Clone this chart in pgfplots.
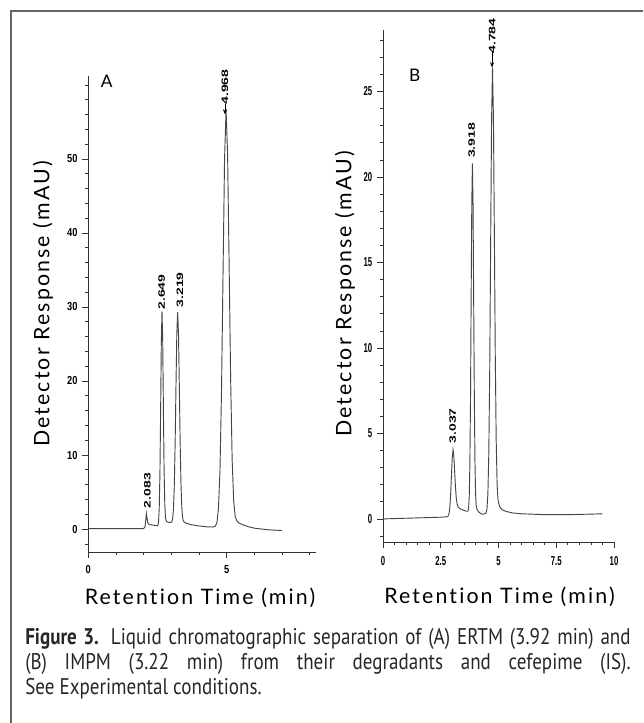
\documentclass[border=0pt]{standalone}
\usepackage{fontspec}
\setmainfont{Lato}
\newfontfamily\tickA[FakeStretch=0.8]{Liberation Sans Bold}
\newfontfamily\tickB[FakeStretch=0.6]{Liberation Sans Bold}
\newfontfamily\pkfont[FakeStretch=1.5]{Liberation Sans Bold}
\newfontfamily\labfont[LetterSpace=10, Ligatures=CommonOff]{Lato}
\newfontfamily\capfont[FakeStretch=0.84, BoldFeatures={FakeStretch=0.84}]{PT Sans}
\usepackage{xcolor}
\usepackage{pgfplots}
\pgfplotsset{compat=1.18}
\usetikzlibrary{arrows.meta}
\definecolor{trace}{HTML}{454545}
\definecolor{axisc}{HTML}{333333}

\pgfplotsset{chrom/.style={
  scale only axis, anchor=south west, clip=false,
  axis lines=left, axis line style={-, axisc, line width=0.6pt},
  tick align=outside, major tick length=4.5pt, minor tick length=2.2pt,
  tick style={axisc, line width=0.5pt},
  /pgf/number format/assume math mode=true,
}}
\newcommand{\pk}[1]{{\pkfont\fontsize{7}{8}\selectfont #1}}

\begin{document}
\begin{tikzpicture}
\useasboundingbox (0,0) rectangle (482.25pt,542.25pt);
\draw[line width=1.2pt, black!60] (8.25pt,0) -- (8.25pt,534pt) -- (482.25pt,534pt);

% panel A
\begin{axis}[chrom, at={(66.2pt,128.25pt)}, width=170.8pt, height=357pt,
  xmin=0, xmax=8.23, ymin=-3.1, ymax=61.2,
  xtick={0,5}, minor xtick={1,2,3,4,6,7,8},
  ytick={0,10,...,50}, minor ytick={-2,2,4,...,60},
  ticklabel style={font=\tickA\fontsize{8.7}{10}\selectfont},
  xticklabel style={yshift=-2pt}]
\addplot[trace, line width=0.7pt, no markers] coordinates {
 (0,0.05)(0.5,0.05)(1,0.05)(1.5,0.05)(2.0,0.06)(2.05,0.3)(2.075,1.1)(2.10,2.1)
 (2.125,1.45)(2.15,0.85)(2.2,0.6)(2.3,0.55)(2.4,0.5)(2.48,0.42)
 (2.515,0.5)(2.54,1.0)(2.565,2.85)(2.59,7.6)(2.615,16.0)(2.64,25.3)(2.665,29.4)
 (2.69,25.5)(2.715,16.3)(2.74,8.0)(2.765,3.35)(2.79,1.5)(2.82,1.05)(2.87,0.95)
 (2.92,0.9)(2.97,0.88)(3.02,0.95)(3.05,1.42)(3.08,2.8)(3.11,6.0)(3.14,11.7)
 (3.17,19.4)(3.2,26.4)(3.23,29.3)(3.26,26.45)(3.29,19.5)(3.32,11.8)(3.35,6.1)
 (3.38,2.9)(3.41,1.5)(3.44,1.05)(3.5,0.85)(3.7,0.6)(4.0,0.42)(4.3,0.3)(4.5,0.27)
 (4.595,0.39)(4.65,0.9)(4.705,2.8)(4.76,7.9)(4.815,18.6)(4.87,34.4)(4.925,50.0)
 (4.98,56.6)(5.035,50.6)(5.09,35.8)(5.145,20.3)(5.20,9.3)(5.255,3.8)(5.31,1.7)
 (5.37,1.1)(5.45,0.8)(5.6,0.55)(5.8,0.3)(6.0,0.12)(6.5,-0.1)(7.0,-0.2)};
\node[rotate=90, anchor=west, inner sep=0pt] at (axis cs:2.14,2.8) {\pk{2.083}};
\node[rotate=90, anchor=west, inner sep=0pt] at (axis cs:2.65,29.6) {\pk{2.649}};
\node[rotate=90, anchor=west, inner sep=0pt] at (axis cs:3.31,29.9) {\pk{3.219}};
\node[rotate=90, anchor=west, inner sep=0pt] at (axis cs:4.94,57.3) {\pk{4.968}};
\draw[-{Stealth[length=4pt,width=3pt]}, black, line width=0.5pt] (axis cs:4.94,57.4) -- (axis cs:4.94,56.0);
\end{axis}

% panel B
\begin{axis}[chrom, at={(287.25pt,135.75pt)}, width=173.25pt, height=384pt,
  xmin=0, xmax=10, ymin=-1.35, ymax=28.6,
  xtick={0,2.5,5,7.5,10}, minor xtick={0.5,1,...,9.5},
  ytick={0,5,...,25}, minor ytick={-1,0,...,28},
  ticklabel style={font=\tickB\fontsize{9.7}{11}\selectfont},
  xticklabel style={yshift=-3pt}]
\addplot[trace, line width=0.7pt, no markers] coordinates {
 (0,0)(0.5,0.02)(1,0.04)(1.5,0.06)(2,0.08)(2.5,0.1)(2.8,0.13)(2.855,0.28)
 (2.89,0.63)(2.925,1.35)(2.96,2.44)(2.995,3.52)(3.03,4.05)(3.065,3.72)(3.1,2.8)
 (3.135,1.9)(3.17,1.25)(3.205,0.9)(3.25,0.7)(3.35,0.58)(3.5,0.5)(3.6,0.45)
 (3.678,0.45)(3.705,0.63)(3.733,1.3)(3.76,3.16)(3.788,7.0)(3.815,12.77)
 (3.843,18.4)(3.87,20.8)(3.898,18.4)(3.925,12.8)(3.953,7.2)(3.98,3.4)
 (4.008,1.45)(4.035,0.8)(4.07,0.55)(4.15,0.4)(4.25,0.3)(4.35,0.28)(4.46,0.34)
 (4.50,0.57)(4.54,1.45)(4.58,3.83)(4.62,8.77)(4.66,16.1)(4.70,23.3)(4.74,26.4)
 (4.78,23.5)(4.82,16.8)(4.86,9.6)(4.90,4.6)(4.94,2.0)(4.98,1.1)(5.04,0.75)
 (5.14,0.55)(5.3,0.45)(5.6,0.35)(6.0,0.3)(7.0,0.25)(8.0,0.25)(9.0,0.28)(9.5,0.3)};
\node[rotate=90, anchor=west, inner sep=0pt] at (axis cs:3.02,4.4) {\pk{3.037}};
\node[rotate=90, anchor=west, inner sep=0pt] at (axis cs:3.84,21.1) {\pk{3.918}};
\node[rotate=90, anchor=west, inner sep=0pt] at (axis cs:4.72,27.2) {\pk{4.784}};
\draw[-{Stealth[length=4pt,width=3pt]}, black, line width=0.5pt] (axis cs:4.72,27.3) -- (axis cs:4.72,26.4);
\end{axis}

% axis titles and panel letters
\node[font=\labfont\fontsize{16}{19}\selectfont] at (150pt,93.75pt) {Retention Time (min)};
\node[font=\labfont\fontsize{16}{19}\selectfont] at (374.6pt,94.5pt) {Retention Time (min)};
\node[font=\labfont\fontsize{16}{19}\selectfont, rotate=90] at (32.25pt,314.25pt) {Detector Response (mAU)};
\node[font=\labfont\fontsize{16}{19}\selectfont, rotate=90] at (258.75pt,321.75pt) {Detector Response (mAU)};
\node[font=\fontsize{13}{15}\selectfont] at (80pt,481.5pt) {A};
\node[font=\fontsize{13}{15}\selectfont] at (311pt,486pt) {B};

% caption
\node[anchor=base west, inner sep=0pt, text=black!85] at (18.75pt,58.5pt) {\parbox[t]{454pt}{%
  \capfont\fontsize{17}{18.4}\selectfont\parindent=0pt
  \textbf{Figure 3.} Liquid chromatographic separation of (A) ERTM (3.92 min) and\linebreak
  (B) IMPM (3.22 min) from their degradants and cefepime (IS).\linebreak
  See Experimental conditions.\par}};
\end{tikzpicture}
\end{document}
